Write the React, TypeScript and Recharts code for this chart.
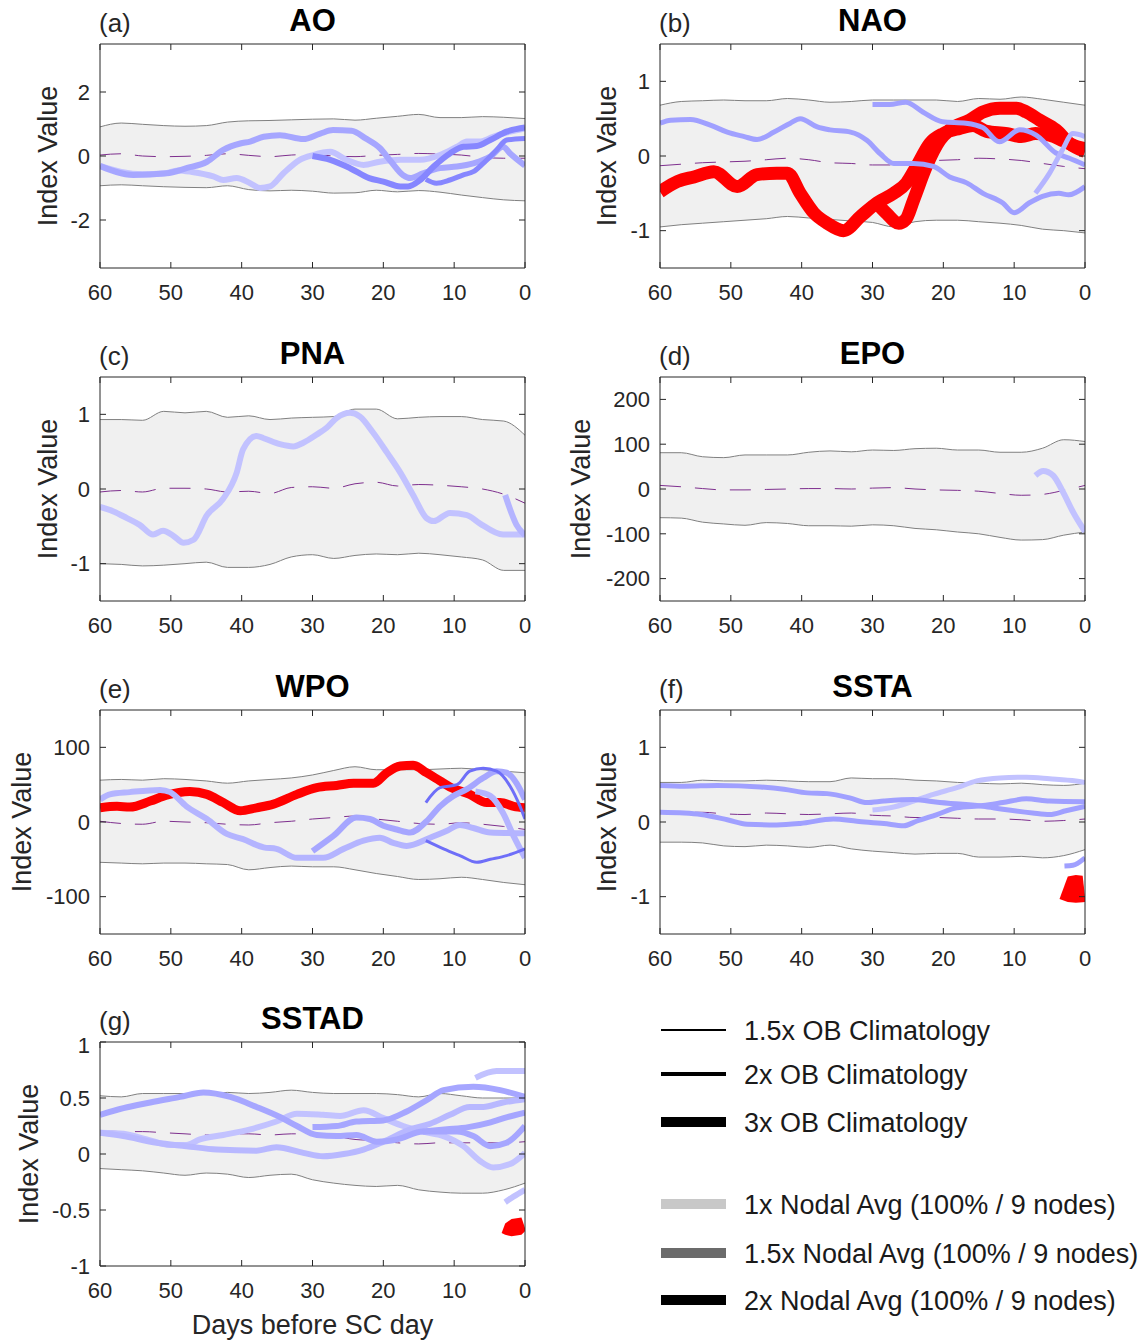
import React from "react";
import { ComposedChart, Line, Area, XAxis, YAxis, ReferenceLine } from "recharts";

type Pt = [number, number];
type Rg = [number, number, number];

// shared x grid for the climatology band, days before SC day
const bandDays = [60, 57, 54, 51, 48, 45, 42, 39, 36, 33, 30, 27, 24, 21, 18, 15, 12, 9, 6, 3, 0];
const dayTicks = [60, 50, 40, 30, 20, 10, 0];

// (a) AO
const aoHi = [0.91, 1.03, 0.99, 0.95, 0.93, 0.95, 1.06, 1.1, 1.11, 1.13, 1.15, 1.16, 1.12, 1.18, 1.24, 1.3, 1.2, 1.2, 1.23, 1.21, 1.17];
const aoLo = [-0.93, -0.9, -0.93, -0.96, -0.98, -0.99, -0.93, -1.05, -1.09, -1.07, -1.1, -1.16, -1.15, -1.07, -1.12, -1.08, -1.13, -1.22, -1.3, -1.37, -1.4];
const aoMean = [0.03, 0.07, 0.0, -0.02, -0.01, 0.02, 0.07, 0.02, -0.02, 0.03, 0.05, 0.0, -0.02, 0.02, 0.05, 0.08, 0.06, 0.03, -0.04, -0.07, -0.07];
const aoMid: Pt[] = [[60, -0.31], [55.3, -0.59], [50.6, -0.54], [47.8, -0.38], [44.9, -0.18], [42.6, 0.19], [40.2, 0.39], [38.8, 0.45], [36.9, 0.6], [34.6, 0.65], [31.3, 0.53], [28.9, 0.7], [27.1, 0.81], [24.5, 0.79], [22.5, 0.55], [20.5, 0.25], [19, -0.15], [17.2, -0.6], [16.2, -0.69], [14.4, -0.54], [12, -0.38], [9.6, -0.33], [7.3, -0.23], [4.9, -0.02], [3.1, 0.29], [2.1, 0.08], [0, -0.3]];
const aoLight: Pt[] = [[60, -0.31], [57, -0.5], [54, -0.57], [51, -0.55], [49, -0.45], [47, -0.5], [44, -0.64], [42.6, -0.75], [40.7, -0.69], [38.8, -0.85], [37.4, -1.0], [36, -0.95], [34.1, -0.54], [31.8, -0.12], [29.9, 0.03], [27.5, 0.13], [25.2, -0.12], [22.8, -0.28], [20.5, -0.18], [17.6, -0.12], [14.8, -0.12], [12, 0.03], [9.6, 0.29], [8.2, 0.45], [6.4, 0.45], [4.5, 0.6], [2.1, 0.76], [0, 0.86]];
const aoDark30: Pt[] = [[30, 0], [27.5, -0.12], [24.7, -0.38], [22, -0.69], [20, -0.8], [17.6, -0.95], [16.5, -0.95], [14.8, -0.75], [12.9, -0.33], [10.6, 0.08], [8.7, 0.29], [6.8, 0.31], [4.9, 0.5], [2.6, 0.76], [0, 0.89]];
const aoDark14: Pt[] = [[14, -0.73], [12.5, -0.85], [10.6, -0.75], [8.7, -0.59], [7.3, -0.49], [5.9, -0.23], [4, 0.19], [2.6, 0.5], [0, 0.55]];

// (b) NAO
const naoHi = [0.68, 0.73, 0.74, 0.75, 0.74, 0.74, 0.77, 0.75, 0.72, 0.73, 0.75, 0.75, 0.75, 0.75, 0.73, 0.77, 0.76, 0.79, 0.76, 0.72, 0.68];
const naoLo = [-0.95, -0.92, -0.9, -0.88, -0.86, -0.84, -0.81, -0.83, -0.85, -0.87, -0.89, -0.95, -0.88, -0.86, -0.86, -0.88, -0.9, -0.93, -0.98, -1.0, -1.03];
const naoMean = [-0.13, -0.11, -0.09, -0.08, -0.07, -0.05, -0.03, -0.05, -0.09, -0.1, -0.12, -0.12, -0.08, -0.06, -0.05, -0.03, -0.04, -0.06, -0.1, -0.14, -0.17];
const naoRedA: Pt[] = [[60, -0.48], [57.5, -0.34], [55.2, -0.28], [52.4, -0.21], [49.1, -0.41], [46.3, -0.25], [43.5, -0.23], [42, -0.23], [40.2, -0.5], [38.3, -0.76], [36.4, -0.9], [34.1, -1.0], [31.7, -0.81], [29.4, -0.63], [27, -0.5], [25.2, -0.36], [23.8, -0.14], [21.9, 0.17], [20, 0.3], [17.7, 0.37], [15.8, 0.41], [13.9, 0.33], [11, 0.3], [9, 0.26], [7, 0.3], [5, 0.28], [3, 0.2], [1, 0.12], [0, 0.1]];
const naoRedB: Pt[] = [[29.4, -0.63], [28, -0.77], [26.3, -0.9], [25.3, -0.85], [24.2, -0.59], [22.4, -0.14], [20.5, 0.21], [19.1, 0.35], [16.3, 0.48], [14.4, 0.59], [12, 0.64], [9.7, 0.64], [8.3, 0.59], [6.4, 0.48], [4.1, 0.35], [2.2, 0.17], [0, 0.06]];
const naoBlue60: Pt[] = [[60, 0.44], [58.5, 0.48], [55.7, 0.49], [52.8, 0.41], [50.5, 0.32], [48.1, 0.26], [46.3, 0.22], [43.9, 0.32], [41.6, 0.44], [40.2, 0.5], [37.8, 0.39], [36, 0.35], [33.1, 0.32], [30.8, 0.21], [28.9, 0.03], [27, -0.1], [24.2, -0.1], [21.4, -0.14], [19.1, -0.28], [16.7, -0.36], [14.4, -0.5], [11.6, -0.63], [10, -0.76], [7.9, -0.63], [6, -0.54], [3.7, -0.5], [2.3, -0.52], [0, -0.41]];
const naoBlue30: Pt[] = [[30, 0.69], [27.6, 0.69], [25.3, 0.72], [22.9, 0.59], [20.1, 0.46], [16.8, 0.44], [14.4, 0.38], [12.1, 0.19], [9.2, 0.35], [6.9, 0.28], [4.1, 0.04], [2.2, -0.03], [0, -0.12]];
const naoLight7: Pt[] = [[7, -0.5], [5, -0.23], [3.2, 0.08], [1.7, 0.3], [0, 0.26]];

// (c) PNA
const pnaHi = [0.93, 0.93, 0.92, 1.04, 1.02, 1.04, 0.96, 0.98, 0.93, 0.95, 0.96, 0.97, 1.07, 1.07, 0.94, 0.96, 0.97, 0.97, 0.93, 0.91, 0.72];
const pnaLo = [-1.0, -1.01, -1.03, -1.02, -1.0, -0.98, -1.05, -1.05, -1.01, -0.91, -0.88, -0.93, -0.89, -0.87, -0.88, -0.86, -0.88, -0.91, -0.95, -1.09, -1.09];
const pnaMean = [-0.04, -0.02, -0.04, 0.01, 0.01, 0.0, -0.04, -0.03, -0.06, 0.02, 0.03, 0.01, 0.07, 0.09, 0.04, 0.06, 0.05, 0.03, 0.0, -0.07, -0.19];
const pnaLight: Pt[] = [[60, -0.24], [58.1, -0.3], [56.2, -0.39], [54.4, -0.48], [52.5, -0.61], [51.1, -0.56], [49.6, -0.63], [48.2, -0.72], [46.8, -0.68], [44.9, -0.35], [42.6, -0.13], [40.7, 0.22], [39.8, 0.53], [37.9, 0.71], [36.9, 0.68], [34.6, 0.6], [32.7, 0.57], [31.3, 0.62], [29.4, 0.73], [28, 0.82], [26.6, 0.95], [24.7, 1.02], [23.3, 0.97], [21.4, 0.75], [19.5, 0.49], [17.6, 0.22], [15.8, -0.08], [13.9, -0.39], [12.9, -0.43], [10.6, -0.32], [8.2, -0.35], [6.4, -0.46], [3.1, -0.61], [0, -0.61]];
const pnaLight3: Pt[] = [[2.8, -0.08], [1.2, -0.48], [0, -0.62]];

// (d) EPO
const epoHi = [81, 81, 72, 70, 76, 76, 76, 82, 85, 83, 87, 86, 90, 91, 87, 87, 82, 82, 91, 110, 106];
const epoLo = [-64, -65, -74, -78, -81, -75, -77, -82, -82, -83, -80, -82, -88, -91, -96, -100, -108, -114, -113, -103, -96];
const epoMean = [8, 5, 1, -2, -2, -1, 0, 1, 1, 0, 2, 3, 0, -2, -3, -5, -10, -14, -12, -3, 8];
const epoLight7: Pt[] = [[7, 30], [5.9, 40], [4.5, 30], [3.1, -7], [1.7, -51], [0, -95]];

// (e) WPO
const wpoHi = [56, 57, 56, 58, 57, 55, 52, 55, 57, 59, 63, 69, 74, 70, 70, 70, 71, 72, 70, 68, 66];
const wpoLo = [-54, -55, -56, -55, -55, -56, -57, -64, -61, -59, -60, -60, -64, -69, -73, -77, -76, -74, -77, -81, -84];
const wpoMean = [1, -2, -3, 1, 0, -1, -3, -4, -1, 1, 4, 6, 8, 4, 1, -2, -3, -1, -3, -6, -10];
const wpoRed: Pt[] = [[60, 19], [57.6, 21], [55.8, 20], [52.9, 28], [50.6, 36], [47.3, 41], [44.9, 37], [42.6, 26], [40.2, 15], [37.9, 19], [35.5, 24], [32.2, 37], [29.4, 46], [26.6, 49], [24.2, 52], [21.4, 52], [19.5, 66], [17.6, 75], [15.8, 76], [13.9, 66], [12, 55], [10.6, 47], [7.8, 37], [5.4, 26], [3.5, 26], [1.6, 21], [0, 19]];
const wpoLight: Pt[] = [[60, 30], [58.6, 37], [55.8, 40], [51.5, 43], [50.1, 40], [47.8, 21], [44.9, 4], [42.1, -16], [39.8, -23], [36.9, -34], [35.1, -36], [32.2, -48], [28.5, -48], [25.6, -36], [22.8, -25], [20.5, -21], [18.6, -28], [16.7, -32], [13.4, -21], [11.1, -12], [9.2, -4], [7.3, -8], [4.9, -14], [0, -15]];
const wpoMid30: Pt[] = [[30, -39], [27.1, -19], [23.8, 6], [21.9, 4], [20, -5], [18.1, -10], [16.2, -14], [13.9, 1], [12, 21], [10.1, 35], [8.2, 44], [5.9, 59], [4, 68], [2.6, 66], [1.2, 52], [0, 30]];
const wpoLight7: Pt[] = [[7, 41], [4.9, 35], [3.1, 12], [1.6, -19], [0, -48]];
const wpoDarkA: Pt[] = [[14, 26], [12, 46], [9.6, 50], [7.8, 68], [5.9, 72], [4, 68], [2.1, 48], [0.7, 21], [0, 4]];
const wpoDarkB: Pt[] = [[14, -25], [11.5, -36], [9.2, -45], [6.8, -54], [4.9, -50], [2.6, -45], [0, -36]];

// (f) SSTA
const sstaHi = [0.53, 0.53, 0.56, 0.55, 0.55, 0.56, 0.55, 0.54, 0.54, 0.59, 0.58, 0.58, 0.56, 0.55, 0.53, 0.52, 0.51, 0.52, 0.5, 0.49, 0.52];
const sstaLo = [-0.27, -0.27, -0.28, -0.32, -0.33, -0.31, -0.32, -0.34, -0.31, -0.36, -0.39, -0.41, -0.43, -0.42, -0.42, -0.47, -0.47, -0.46, -0.48, -0.45, -0.37];
const sstaMean = [0.13, 0.13, 0.13, 0.11, 0.1, 0.12, 0.11, 0.1, 0.11, 0.12, 0.09, 0.08, 0.06, 0.06, 0.05, 0.04, 0.04, 0.03, 0.01, 0.02, 0.04];
const sstaUpper: Pt[] = [[60, 0.49], [56.6, 0.48], [51.9, 0.49], [45.8, 0.47], [42.5, 0.44], [39.2, 0.39], [36.4, 0.38], [33.1, 0.32], [30.8, 0.26], [28.4, 0.28], [24.2, 0.3], [20.5, 0.26], [17.7, 0.24], [14.4, 0.21], [11.6, 0.17], [7.4, 0.12], [5, 0.1], [2.7, 0.15], [0, 0.21]];
const sstaLower: Pt[] = [[60, 0.13], [56.6, 0.12], [54.2, 0.1], [50.5, 0.03], [47.7, -0.03], [43.5, -0.04], [40.2, -0.02], [35.5, 0.04], [32.2, 0.01], [28.4, -0.02], [25.6, -0.05], [23.8, 0.01], [20.9, 0.1], [18.1, 0.19], [14.4, 0.22], [11.6, 0.26], [8.3, 0.31], [5, 0.28], [0, 0.27]];
const sstaLight30: Pt[] = [[30, 0.16], [27.5, 0.19], [24.2, 0.28], [21.4, 0.37], [18.1, 0.46], [15.3, 0.55], [12, 0.59], [8.3, 0.6], [5, 0.58], [1.3, 0.55], [0, 0.53]];
const sstaMid3: Pt[] = [[2.9, -0.59], [1.7, -0.58], [0, -0.48]];
// red 3x segment at the very end: [day, low, high]
const sstaRed: Rg[] = [[3.6, -1.03, -1.03], [2.43, -1.07, -0.73], [1.3, -1.08, -0.71], [0.33, -1.075, -0.72], [0, -1.07, -1.0]];

// (g) SSTAD
const sstadHi = [0.52, 0.51, 0.54, 0.54, 0.54, 0.54, 0.55, 0.54, 0.55, 0.57, 0.55, 0.54, 0.54, 0.54, 0.53, 0.51, 0.54, 0.52, 0.5, 0.5, 0.5];
const sstadLo = [-0.13, -0.14, -0.15, -0.17, -0.19, -0.17, -0.18, -0.21, -0.19, -0.18, -0.23, -0.26, -0.28, -0.29, -0.28, -0.32, -0.34, -0.35, -0.35, -0.32, -0.26];
const sstadMean = [0.21, 0.2, 0.2, 0.19, 0.18, 0.17, 0.18, 0.18, 0.17, 0.18, 0.18, 0.16, 0.13, 0.12, 0.1, 0.09, 0.1, 0.1, 0.1, 0.1, 0.11];
const sstadMid60: Pt[] = [[60, 0.35], [56.7, 0.41], [52.9, 0.46], [48.7, 0.51], [45.4, 0.55], [41.6, 0.51], [37.9, 0.42], [34.6, 0.33], [32.2, 0.25], [29.4, 0.17], [26.6, 0.16], [23.8, 0.17], [20.9, 0.11], [18.1, 0.13], [14.4, 0.2], [9.6, 0.2], [7.3, 0.16], [4.9, 0.07], [2.6, 0.1], [0, 0.25]];
const sstadLightA: Pt[] = [[60, 0.19], [56.7, 0.18], [53.4, 0.13], [50.1, 0.08], [47.8, 0.08], [45.9, 0.13], [42.6, 0.17], [38.8, 0.22], [35.1, 0.29], [32.2, 0.36], [28.5, 0.35], [26.1, 0.34], [22.8, 0.39], [20, 0.32], [17.2, 0.25], [14.4, 0.2], [11.5, 0.16], [8.7, 0.07], [6.4, -0.06], [4.5, -0.12], [2.1, -0.09], [0, 0.01]];
const sstadLightB: Pt[] = [[60, 0.19], [56.7, 0.16], [52, 0.1], [47.8, 0.07], [43.5, 0.04], [37.9, 0.03], [35.1, 0.06], [31.3, 0.01], [28.5, -0.02], [25.6, 0.0], [22.8, 0.04], [20, 0.11], [16.2, 0.22], [13.4, 0.27], [10.6, 0.35], [7.8, 0.42], [5.9, 0.42], [3.1, 0.46], [0, 0.49]];
const sstadMid30: Pt[] = [[30, 0.24], [26.6, 0.25], [23.8, 0.29], [20, 0.3], [16.7, 0.38], [13.9, 0.48], [11.5, 0.57], [7.3, 0.6], [3.5, 0.57], [0, 0.51]];
const sstadMid14: Pt[] = [[14.4, 0.2], [11, 0.22], [8, 0.24], [5, 0.28], [2.5, 0.33], [0, 0.37]];
const sstadLight7: Pt[] = [[7, 0.68], [4, 0.74], [0, 0.74]];
const sstadLight3: Pt[] = [[2.8, -0.43], [1.6, -0.38], [0, -0.32]];
const sstadRed: Rg[] = [[3.3, -0.705, -0.705], [2.8, -0.72, -0.62], [1.9, -0.735, -0.58], [0.5, -0.72, -0.567], [0, -0.69, -0.66]];

const LIGHT = "#c2c2ff";
const MID = "#a6a6ff";
const DARK = "#8686ff";
const DEEP = "#6e6ef8";
const RED = "#ff0000";
const INK = "#262626";
const FONT = "'Liberation Sans', Arial, Helvetica, sans-serif";

type Trace = { pts: Pt[]; color: string; width: number };

type PanelProps = {
  left: number;
  top: number;
  letter: string;
  title: string;
  domain: [number, number];
  yTicks: number[];
  hi: number[];
  lo: number[];
  mean: number[];
  traces: Trace[];
  blob?: Rg[];
  labelX: number;
};

const PW = 425;
const PH = 224;
const TICK = 6; // inward tick length, px

const Panel = ({ left, top, letter, title, domain, yTicks, hi, lo, mean, traces, blob, labelX }: PanelProps) => {
  const band = bandDays.map((d, i) => ({ d, r: [lo[i], hi[i]], hi: hi[i], lo: lo[i], m: mean[i] }));
  const [y0, y1] = domain;
  const ky = ((y1 - y0) * TICK) / PH;
  const kx = (60 * TICK) / PW;
  const tickLine = { stroke: INK, strokeWidth: 1 };
  return (
    <>
      <div style={{ position: "absolute", left: left - 100, top: top - 10 }}>
        <ComposedChart width={100 + PW + 10} height={10 + PH + 50} margin={{ top: 10, right: 10, left: 0, bottom: 0 }}>
          <XAxis
            xAxisId="b"
            type="number"
            dataKey="d"
            domain={[0, 60]}
            reversed
            ticks={dayTicks}
            allowDataOverflow
            height={50}
            tickSize={-6}
            tickMargin={22}
            tickLine={false}
            stroke={INK}
            tick={{ fill: INK, fontSize: 22 }}
          />
          <YAxis
            yAxisId="l"
            type="number"
            domain={domain}
            ticks={yTicks}
            allowDataOverflow
            width={100}
            tickSize={-6}
            tickMargin={16}
            tickLine={false}
            stroke={INK}
            tick={{ fill: INK, fontSize: 22 }}
          />
          <Area xAxisId="b" yAxisId="l" data={band} dataKey="r" type="monotone" stroke="none" fill="#f0f0f0" fillOpacity={1} isAnimationActive={false} />
          <Line xAxisId="b" yAxisId="l" data={band} dataKey="hi" type="monotone" stroke="#808080" strokeWidth={1} dot={false} activeDot={false} isAnimationActive={false} />
          <Line xAxisId="b" yAxisId="l" data={band} dataKey="lo" type="monotone" stroke="#808080" strokeWidth={1} dot={false} activeDot={false} isAnimationActive={false} />
          <Line xAxisId="b" yAxisId="l" data={band} dataKey="m" type="monotone" stroke="#7e2f8e" strokeWidth={1} strokeDasharray="21 14" dot={false} activeDot={false} isAnimationActive={false} />
          {blob && (
            <Area
              xAxisId="b"
              yAxisId="l"
              data={blob.map(([d, a, b]) => ({ d, r: [a, b] }))}
              dataKey="r"
              type="linear"
              stroke="none"
              fill={RED}
              fillOpacity={1}
              isAnimationActive={false}
            />
          )}
          {traces.map((t, i) => (
            <Line
              key={`tr-${i}`}
              xAxisId="b"
              yAxisId="l"
              data={t.pts.map(([d, v]) => ({ d, v }))}
              dataKey="v"
              type="monotone"
              stroke={t.color}
              strokeWidth={t.width}
              strokeLinejoin="round"
              dot={false}
              activeDot={false}
              isAnimationActive={false}
            />
          ))}
          {/* box: top and right edges */}
          <ReferenceLine xAxisId="b" yAxisId="l" y={y1} {...tickLine} />
          <ReferenceLine xAxisId="b" yAxisId="l" x={0} {...tickLine} />
          {/* inward ticks on all four sides */}
          {dayTicks.map((t) => (
            <ReferenceLine key={`bt-${t}`} xAxisId="b" yAxisId="l" segment={[{ x: t, y: y0 }, { x: t, y: y0 + ky }]} {...tickLine} />
          ))}
          {dayTicks.map((t) => (
            <ReferenceLine key={`tt-${t}`} xAxisId="b" yAxisId="l" segment={[{ x: t, y: y1 }, { x: t, y: y1 - ky }]} {...tickLine} />
          ))}
          {yTicks.map((v) => (
            <ReferenceLine key={`lt-${v}`} xAxisId="b" yAxisId="l" segment={[{ x: 60, y: v }, { x: 60 - kx, y: v }]} {...tickLine} />
          ))}
          {yTicks.map((v) => (
            <ReferenceLine key={`rt-${v}`} xAxisId="b" yAxisId="l" segment={[{ x: 0, y: v }, { x: kx, y: v }]} {...tickLine} />
          ))}
        </ComposedChart>
      </div>
      <div style={{ position: "absolute", left, top: top - 24, width: PW, textAlign: "center", transform: "translateY(-50%)", fontSize: 31, fontWeight: "bold", lineHeight: 1, color: "#000" }}>
        {title}
      </div>
      <div style={{ position: "absolute", left: left - 1, top: top - 21, transform: "translateY(-50%)", fontSize: 26, lineHeight: 1, color: INK }}>
        {letter}
      </div>
      <div style={{ position: "absolute", left: labelX, top: top + PH / 2, transform: "translate(-50%, -50%) rotate(-90deg)", fontSize: 27, lineHeight: 1, whiteSpace: "nowrap", color: INK }}>
        Index Value
      </div>
    </>
  );
};

const legendItems = [
  { label: "1.5x OB Climatology", y: 1030, color: "#000", width: 2 },
  { label: "2x OB Climatology", y: 1074, color: "#000", width: 4 },
  { label: "3x OB Climatology", y: 1122, color: "#000", width: 10 },
  { label: "1x Nodal Avg (100% / 9 nodes)", y: 1204, color: "#c8c8c8", width: 10 },
  { label: "1.5x Nodal Avg (100% / 9 nodes)", y: 1253, color: "#6b6b6b", width: 10 },
  { label: "2x Nodal Avg (100% / 9 nodes)", y: 1300, color: "#000", width: 10 },
];

export default function App() {
  return (
    <div style={{ position: "absolute", left: 0, top: 0, width: 1147, height: 1342, background: "#fff", fontFamily: FONT, overflow: "hidden" }}>
      <Panel
        left={100} top={44} letter="(a)" title="AO" domain={[-3.5, 3.5]} yTicks={[-2, 0, 2]}
        hi={aoHi} lo={aoLo} mean={aoMean} labelX={48}
        traces={[
          { pts: aoLight, color: LIGHT, width: 6 },
          { pts: aoMid, color: MID, width: 6 },
          { pts: aoDark30, color: DARK, width: 6 },
          { pts: aoDark14, color: DARK, width: 5 },
        ]}
      />
      <Panel
        left={660} top={44} letter="(b)" title="NAO" domain={[-1.5, 1.5]} yTicks={[-1, 0, 1]}
        hi={naoHi} lo={naoLo} mean={naoMean} labelX={607}
        traces={[
          { pts: naoRedA, color: RED, width: 13 },
          { pts: naoRedB, color: RED, width: 13 },
          { pts: naoBlue60, color: "#a0a0ff", width: 5 },
          { pts: naoBlue30, color: "#a0a0ff", width: 5 },
          { pts: naoLight7, color: "#b4b4ff", width: 5 },
        ]}
      />
      <Panel
        left={100} top={377} letter="(c)" title="PNA" domain={[-1.5, 1.5]} yTicks={[-1, 0, 1]}
        hi={pnaHi} lo={pnaLo} mean={pnaMean} labelX={48}
        traces={[
          { pts: pnaLight, color: LIGHT, width: 6 },
          { pts: pnaLight3, color: "#b4b4ff", width: 6 },
        ]}
      />
      <Panel
        left={660} top={377} letter="(d)" title="EPO" domain={[-250, 250]} yTicks={[-200, -100, 0, 100, 200]}
        hi={epoHi} lo={epoLo} mean={epoMean} labelX={581}
        traces={[{ pts: epoLight7, color: LIGHT, width: 6 }]}
      />
      <Panel
        left={100} top={710} letter="(e)" title="WPO" domain={[-150, 150]} yTicks={[-100, 0, 100]}
        hi={wpoHi} lo={wpoLo} mean={wpoMean} labelX={22}
        traces={[
          { pts: wpoRed, color: RED, width: 9 },
          { pts: wpoLight, color: "#b4b4ff", width: 6 },
          { pts: wpoMid30, color: MID, width: 6 },
          { pts: wpoLight7, color: "#b4b4ff", width: 6 },
          { pts: wpoDarkA, color: DEEP, width: 3 },
          { pts: wpoDarkB, color: DEEP, width: 3 },
        ]}
      />
      <Panel
        left={660} top={710} letter="(f)" title="SSTA" domain={[-1.5, 1.5]} yTicks={[-1, 0, 1]}
        hi={sstaHi} lo={sstaLo} mean={sstaMean} labelX={607} blob={sstaRed}
        traces={[
          { pts: sstaLight30, color: LIGHT, width: 5 },
          { pts: sstaUpper, color: "#a0a0ff", width: 5 },
          { pts: sstaLower, color: "#a0a0ff", width: 5 },
          { pts: sstaMid3, color: "#a0a0ff", width: 5 },
        ]}
      />
      <Panel
        left={100} top={1042} letter="(g)" title="SSTAD" domain={[-1, 1]} yTicks={[-1, -0.5, 0, 0.5, 1]}
        hi={sstadHi} lo={sstadLo} mean={sstadMean} labelX={29} blob={sstadRed}
        traces={[
          { pts: sstadLightA, color: LIGHT, width: 6 },
          { pts: sstadLightB, color: "#b8b8ff", width: 6 },
          { pts: sstadMid60, color: MID, width: 6 },
          { pts: sstadMid30, color: MID, width: 6 },
          { pts: sstadMid14, color: MID, width: 6 },
          { pts: sstadLight7, color: LIGHT, width: 6 },
          { pts: sstadLight3, color: LIGHT, width: 6 },
        ]}
      />
      <div style={{ position: "absolute", left: 100, top: 1325, width: PW, textAlign: "center", transform: "translateY(-50%)", fontSize: 27, lineHeight: 1, color: INK }}>
        Days before SC day
      </div>
      <svg style={{ position: "absolute", left: 0, top: 0 }} width={1147} height={1342}>
        {legendItems.map((it) => (
          <line key={it.label} x1={661} x2={726} y1={it.y} y2={it.y} stroke={it.color} strokeWidth={it.width} />
        ))}
      </svg>
      {legendItems.map((it) => (
        <div key={`t-${it.label}`} style={{ position: "absolute", left: 744, top: it.y + 1, transform: "translateY(-50%)", fontSize: 27, lineHeight: 1, whiteSpace: "nowrap", color: "#1a1a1a" }}>
          {it.label}
        </div>
      ))}
    </div>
  );
}
